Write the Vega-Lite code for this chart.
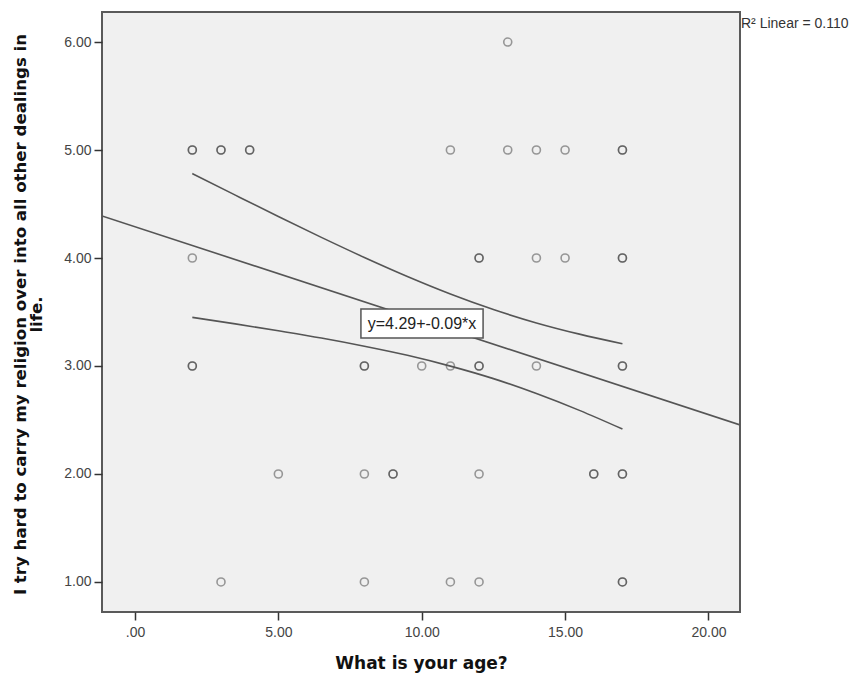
{
  "$schema": "https://vega.github.io/schema/vega-lite/v6.json",
  "width": 638,
  "height": 600,
  "autosize": "none",
  "padding": {"left": 102, "top": 12, "right": 124, "bottom": 66},
  "background": "white",
  "config": {
    "font": "Liberation Sans",
    "view": {"fill": "#f0f0f0", "stroke": "#5a5a5a", "strokeWidth": 2}
  },
  "datasets": {
    "points": [
      {"x": 13, "y": 6},
      {"x": 2, "y": 5}, {"x": 2, "y": 5}, {"x": 3, "y": 5}, {"x": 3, "y": 5},
      {"x": 4, "y": 5}, {"x": 4, "y": 5}, {"x": 11, "y": 5}, {"x": 13, "y": 5},
      {"x": 14, "y": 5}, {"x": 15, "y": 5}, {"x": 17, "y": 5}, {"x": 17, "y": 5},
      {"x": 2, "y": 4}, {"x": 12, "y": 4}, {"x": 12, "y": 4}, {"x": 14, "y": 4},
      {"x": 15, "y": 4}, {"x": 17, "y": 4}, {"x": 17, "y": 4},
      {"x": 2, "y": 3}, {"x": 2, "y": 3}, {"x": 8, "y": 3}, {"x": 8, "y": 3},
      {"x": 10, "y": 3}, {"x": 11, "y": 3}, {"x": 12, "y": 3}, {"x": 12, "y": 3},
      {"x": 14, "y": 3}, {"x": 17, "y": 3}, {"x": 17, "y": 3},
      {"x": 5, "y": 2}, {"x": 8, "y": 2}, {"x": 9, "y": 2}, {"x": 9, "y": 2},
      {"x": 12, "y": 2}, {"x": 16, "y": 2}, {"x": 16, "y": 2}, {"x": 17, "y": 2}, {"x": 17, "y": 2},
      {"x": 3, "y": 1}, {"x": 8, "y": 1}, {"x": 11, "y": 1}, {"x": 12, "y": 1},
      {"x": 17, "y": 1}, {"x": 17, "y": 1}
    ],
    "fit": [
      {"x": -1.15, "y": 4.39},
      {"x": 21.1, "y": 2.454}
    ],
    "band": [
      {"bound": "upper", "x": 2, "y": 4.782},
      {"bound": "upper", "x": 3.5, "y": 4.582},
      {"bound": "upper", "x": 5, "y": 4.384},
      {"bound": "upper", "x": 6.5, "y": 4.191},
      {"bound": "upper", "x": 8, "y": 4.005},
      {"bound": "upper", "x": 9.5, "y": 3.829},
      {"bound": "upper", "x": 11, "y": 3.667},
      {"bound": "upper", "x": 12.5, "y": 3.523},
      {"bound": "upper", "x": 14, "y": 3.399},
      {"bound": "upper", "x": 15.5, "y": 3.295},
      {"bound": "upper", "x": 17, "y": 3.206},
      {"bound": "lower", "x": 2, "y": 3.45},
      {"bound": "lower", "x": 3.5, "y": 3.39},
      {"bound": "lower", "x": 5, "y": 3.326},
      {"bound": "lower", "x": 6.5, "y": 3.259},
      {"bound": "lower", "x": 8, "y": 3.183},
      {"bound": "lower", "x": 9.5, "y": 3.099},
      {"bound": "lower", "x": 11, "y": 2.999},
      {"bound": "lower", "x": 12.5, "y": 2.883},
      {"bound": "lower", "x": 14, "y": 2.745},
      {"bound": "lower", "x": 15.5, "y": 2.589},
      {"bound": "lower", "x": 17, "y": 2.416}
    ],
    "equation": [
      {"x0": 7.88, "x1": 12.14, "y0": 3.259, "y1": 3.528, "x": 10.01, "y": 3.393, "label": "y=4.29+-0.09*x"}
    ],
    "rsq": [
      {"x": 21.1, "y": 6.17, "label": "R² Linear = 0.110"}
    ]
  },
  "encoding": {
    "x": {
      "field": "x",
      "type": "quantitative",
      "scale": {"domain": [-1.15, 21.1], "nice": false, "zero": false},
      "axis": {
        "values": [0, 5, 10, 15, 20],
        "labelExpr": "datum.value == 0 ? '.00' : format(datum.value, '.2f')",
        "domain": false,
        "grid": false,
        "ticks": true,
        "tickSize": 8,
        "tickWidth": 1.5,
        "tickColor": "#333333",
        "labelFontSize": 14,
        "labelColor": "#444444",
        "labelPadding": 5,
        "title": "What is your age?",
        "titleFontSize": 17,
        "titleFont": "DejaVu Sans",
        "titleFontWeight": "bold",
        "titleColor": "#111111",
        "titleY": 43,
        "titleBaseline": "top"
      }
    },
    "y": {
      "field": "y",
      "type": "quantitative",
      "scale": {"domain": [0.722, 6.278], "nice": false, "zero": false},
      "axis": {
        "values": [1, 2, 3, 4, 5, 6],
        "format": ".2f",
        "domain": false,
        "grid": false,
        "tickSize": 8,
        "tickWidth": 1.5,
        "tickColor": "#333333",
        "labelFontSize": 14,
        "labelColor": "#444444",
        "labelPadding": 3,
        "title": ["I try hard to carry my religion over into all other dealings in", "life."],
        "titleFontSize": 16.6,
        "titleFont": "DejaVu Sans",
        "titleFontWeight": "bold",
        "titleColor": "#111111",
        "titleAngle": -90,
        "titleBaseline": "top",
        "titleX": -90,
        "titleY": 302,
        "titleLineHeight": 16
      }
    }
  },
  "layer": [
    {
      "data": {"name": "points"},
      "mark": {"type": "point", "shape": "circle", "size": 64, "filled": false, "stroke": "#222222", "strokeWidth": 1.6, "strokeOpacity": 0.62}
    },
    {
      "data": {"name": "band"},
      "mark": {"type": "line", "interpolate": "monotone", "stroke": "#555555", "strokeWidth": 1.6},
      "encoding": {"detail": {"field": "bound"}}
    },
    {
      "data": {"name": "fit"},
      "mark": {"type": "line", "stroke": "#555555", "strokeWidth": 1.6, "clip": true},
      "encoding": {}
    },
    {
      "data": {"name": "equation"},
      "mark": {"type": "rect", "fill": "white", "stroke": "#555555", "strokeWidth": 1.5},
      "encoding": {
        "x": {"field": "x0", "type": "quantitative"},
        "x2": {"field": "x1"},
        "y": {"field": "y0", "type": "quantitative"},
        "y2": {"field": "y1"}
      }
    },
    {
      "data": {"name": "equation"},
      "mark": {"type": "text", "fontSize": 16, "color": "#222222", "align": "center", "baseline": "middle"},
      "encoding": {"text": {"field": "label"}}
    },
    {
      "data": {"name": "rsq"},
      "mark": {"type": "text", "fontSize": 14, "color": "#333333", "align": "left", "baseline": "middle", "dx": 1, "clip": false},
      "encoding": {"text": {"field": "label"}}
    }
  ]
}
